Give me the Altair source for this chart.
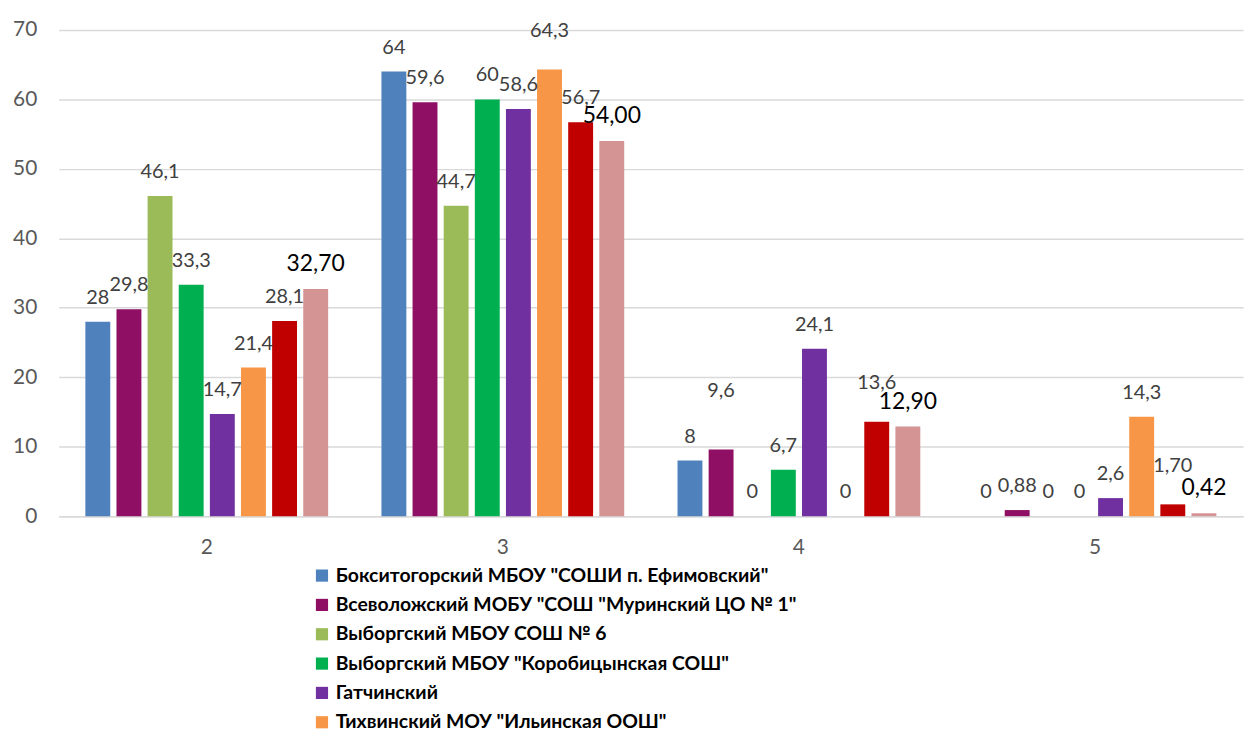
import altair as alt
import pandas as pd

categories = ["2", "3", "4", "5"]
series_names = [
    "Бокситогорский МБОУ \"СОШИ п. Ефимовский\"",
    "Всеволожский МОБУ \"СОШ \"Муринский ЦО № 1\"",
    "Выборгский МБОУ СОШ № 6",
    "Выборгский МБОУ \"Коробицынская СОШ\"",
    "Гатчинский",
    "Тихвинский МОУ \"Ильинская ООШ\"",
    "Ряд 7",
    "Ряд 8",
]
colors = ["#4F81BD", "#8E0F63", "#9BBB59", "#00B050", "#7030A0", "#F79646", "#C00000", "#D49494"]

values = [
    [28, 64, 8, 0],
    [29.8, 59.6, 9.6, 0.88],
    [46.1, 44.7, 0, 0],
    [33.3, 60, 6.7, 0],
    [14.7, 58.6, 24.1, 2.6],
    [21.4, 64.3, 0, 14.3],
    [28.1, 56.7, 13.6, 1.70],
    [32.70, 54.00, 12.90, 0.42],
]
labels = [
    ["28", "64", "8", "0"],
    ["29,8", "59,6", "9,6", "0,88"],
    ["46,1", "44,7", "0", "0"],
    ["33,3", "60", "6,7", "0"],
    ["14,7", "58,6", "24,1", "2,6"],
    ["21,4", "64,3", "0", "14,3"],
    ["28,1", "56,7", "13,6", "1,70"],
    ["32,70", "54,00", "12,90", "0,42"],
]

rows = []
for si, name in enumerate(series_names):
    for ci, cat in enumerate(categories):
        rows.append({
            "cat": cat,
            "series": name,
            "si": si,
            "value": values[si][ci],
            "label": labels[si][ci],
        })
df = pd.DataFrame(rows)

FONT = "Lato"

x = alt.X("cat:N", sort=categories, title=None,
          scale=alt.Scale(paddingInner=0.18, paddingOuter=0.09),
          axis=alt.Axis(labelAngle=0, labelFontSize=21, labelColor="#595959",
                        labelFont=FONT, labelPadding=21, ticks=False,
                        domainColor="#d9d9d9", domainWidth=1.5))
xo = alt.XOffset("series:N", sort=series_names,
                 scale=alt.Scale(paddingInner=0.2, paddingOuter=0))
y = alt.Y("value:Q", title=None,
          scale=alt.Scale(domain=[0, 70], nice=False),
          axis=alt.Axis(values=[0, 10, 20, 30, 40, 50, 60, 70], domain=False, ticks=False,
                        labelFontSize=21, labelColor="#595959", labelFont=FONT,
                        labelPadding=22, gridColor="#d9d9d9", gridWidth=1.5))

bars = alt.Chart(df).mark_bar().encode(
    x=x, xOffset=xo, y=y,
    color=alt.Color("series:N", sort=series_names,
                    scale=alt.Scale(domain=series_names, range=colors),
                    legend=alt.Legend(values=series_names[:6], title=None, orient="none",
                                      legendX=255, legendY=539, direction="vertical",
                                      symbolType="square", symbolSize=150,
                                      symbolStrokeWidth=0, labelFont=FONT,
                                      labelFontWeight="bold", labelFontSize=19.5,
                                      labelColor="#000000", labelLimit=800,
                                      rowPadding=8.5, labelOffset=4, padding=0)),
)

# label placement as in the reference: a few labels sit higher to avoid collisions
raised = "(datum.si == 5 && datum.cat == '3') || (datum.si == 6 && (datum.cat == '4' || datum.cat == '5'))"
raised_more = "datum.si == 1 && datum.cat == '4'"
normal = f"datum.si < 7 && !({raised}) && !({raised_more})"

def gray_text(cond, dy):
    return alt.Chart(df).transform_filter(cond).mark_text(
        baseline="bottom", dy=dy, fontSize=20, font=FONT, color="#404040"
    ).encode(x=x, xOffset=xo, y=y, text="label:N")

text_normal = gray_text(normal, -14)
text_raised = gray_text(raised, -29)
text_raised_more = gray_text(raised_more, -49)

text_black = alt.Chart(df).transform_filter("datum.si == 7").mark_text(
    baseline="bottom", dy=-13, fontSize=23, font=FONT, color="#000000"
).encode(x=x, xOffset=xo, y=y, text="label:N")

chart = alt.layer(bars, text_normal, text_raised, text_raised_more, text_black).properties(
    width=1191, height=489,
    autosize=alt.AutoSizeParams(type="none"),
    padding={"left": 51, "top": 20, "right": 5, "bottom": 214},
).configure_view(stroke=None)

chart.save("out.html", embed_options={"renderer": "svg", "actions": False})
